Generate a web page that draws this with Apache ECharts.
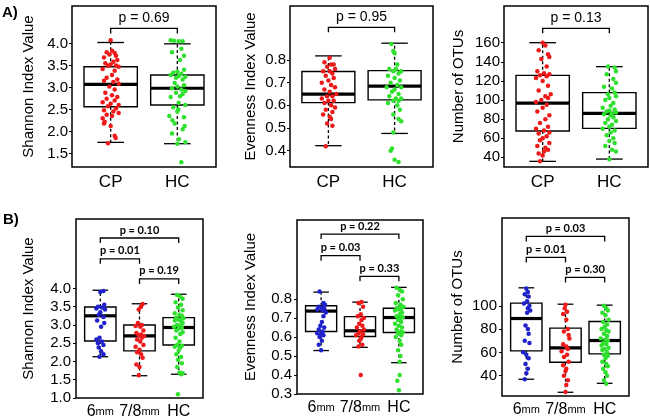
<!DOCTYPE html>
<html><head><meta charset="utf-8">
<script src="https://cdn.jsdelivr.net/npm/echarts@6/dist/echarts.min.js"></script>
<style>html,body{margin:0;padding:0;background:#fff}#c{width:650px;height:420px}</style>
</head><body><div id="c"></div>
<script>
// ---------- categories ----------
const groupsA = ['CP', 'HC'];
const groupsB = ['6mm', '7/8mm', 'HC'];

// ---------- y tick labels ----------
const ticksShannonA = [1.5, 2.0, 2.5, 3.0, 3.5, 4.0];
const ticksEvenA = [0.4, 0.5, 0.6, 0.7, 0.8];
const ticksOtuA = [40, 60, 80, 100, 120, 140, 160];
const ticksShannonB = [1.0, 1.5, 2.0, 2.5, 3.0, 3.5, 4.0];
const ticksEvenB = [0.3, 0.4, 0.5, 0.6, 0.7, 0.8];
const ticksOtuB = [40, 60, 80, 100];

// ---------- box statistics: [lower whisker, Q1, median, Q3, upper whisker] ----------
const boxShannonA = [[1.75, 2.56, 3.07, 3.47, 4.02], [1.72, 2.60, 2.98, 3.28, 3.99]];
const boxEvenA = [[0.422, 0.612, 0.649, 0.749, 0.818], [0.476, 0.624, 0.685, 0.753, 0.874]];
const boxOtuA = [[35.8, 67.5, 96.8, 125.8, 160], [38.2, 70.3, 86, 107.7, 134.9]];
const boxShannonB = [[2.13, 2.56, 3.25, 3.49, 3.95], [1.61, 2.29, 2.70, 3.00, 3.58], [1.65, 2.45, 2.93, 3.20, 3.84]];
const boxEvenB = [[0.529, 0.629, 0.737, 0.765, 0.837], [0.546, 0.603, 0.633, 0.708, 0.784], [0.465, 0.624, 0.703, 0.752, 0.862]];
const boxOtuB = [[36.9, 61.3, 89.1, 102.3, 115.5], [25.7, 51.5, 63.8, 80.8, 101.4], [33.4, 58.7, 70.2, 86.5, 100.6]];

// ---------- p values ----------
const pShannonA = ['p = 0.69'];
const pEvenA = ['p = 0.95'];
const pOtuA = ['p = 0.13'];
const pShannonB = ['p = 0.10', 'p = 0.01', 'p = 0.19'];
const pEvenB = ['p = 0.22', 'p = 0.03', 'p = 0.33'];
const pOtuB = ['p = 0.03', 'p = 0.01', 'p = 0.30'];

// ---------- individual samples (values) and their horizontal jitter ----------
const shannonA_CP = [4.07,3.83,3.80,3.78,3.75,3.72,3.68,3.62,3.58,3.55,3.52,3.50,3.49,3.47,3.42,3.38,3.28,3.22,3.18,3.15,3.12,3.08,3.02,2.95,2.88,2.82,2.78,2.74,2.70,2.66,2.63,2.60,2.57,2.52,2.48,2.45,2.42,2.38,2.35,2.30,2.22,2.18,2.12,1.90,1.85,1.73];
const shannonA_CP_j = [0.00,0.02,-0.06,0.06,-0.02,0.08,-0.10,0.10,0.04,-0.08,0.00,0.08,-0.04,0.12,-0.12,0.06,0.02,-0.06,0.10,-0.10,0.04,0.12,-0.02,0.06,-0.08,0.02,0.10,-0.06,0.06,-0.12,0.00,0.12,-0.04,0.08,-0.10,0.04,0.12,-0.06,0.02,-0.12,-0.09,-0.10,0.00,0.06,0.075,-0.04];
const shannonA_HC = [4.07,4.06,4.05,4.05,3.88,3.80,3.72,3.62,3.40,3.36,3.33,3.31,3.28,3.26,3.24,3.22,3.18,3.10,3.05,3.02,2.98,2.95,2.92,2.88,2.85,2.80,2.78,2.65,2.60,2.55,2.50,2.45,2.35,2.32,2.25,2.18,2.12,2.05,1.95,1.82,1.75,1.72,1.30];
const shannonA_HC_j = [-0.10,-0.05,0.02,0.08,0.06,-0.08,0.10,0.04,0.10,0.00,-0.06,0.06,-0.10,0.02,0.12,-0.02,0.08,-0.04,0.10,0.00,-0.08,0.06,0.12,-0.02,0.08,0.04,-0.10,0.02,0.12,-0.06,0.015,0.00,-0.12,0.10,-0.075,-0.04,0.11,0.08,-0.08,0.025,0.12,0.00,0.06];

const evenA_CP = [0.81,0.79,0.78,0.78,0.77,0.76,0.75,0.75,0.74,0.73,0.72,0.71,0.70,0.69,0.68,0.67,0.66,0.65,0.64,0.64,0.63,0.62,0.62,0.61,0.60,0.59,0.58,0.57,0.56,0.55,0.54,0.52,0.51,0.42];
const evenA_CP_j = [0.02,-0.06,0.04,0.08,-0.02,0.10,-0.08,0.02,0.06,-0.04,0.08,0.00,-0.10,0.04,0.10,-0.06,0.02,0.12,-0.02,0.06,-0.10,0.00,0.08,-0.06,0.04,0.10,-0.04,0.06,-0.08,0.02,0.04,-0.02,0.06,-0.04];
const evenA_HC = [0.87,0.84,0.83,0.78,0.76,0.76,0.75,0.75,0.74,0.73,0.72,0.71,0.70,0.69,0.68,0.68,0.67,0.66,0.65,0.64,0.63,0.63,0.62,0.62,0.61,0.60,0.58,0.56,0.54,0.53,0.48,0.41,0.40,0.36,0.35];
const evenA_HC_j = [-0.05,-0.02,0.00,0.04,-0.08,0.02,0.10,-0.02,0.06,-0.10,0.00,0.08,-0.06,0.04,-0.12,0.10,0.00,-0.04,0.06,-0.08,0.02,0.10,-0.02,0.06,-0.10,0.04,0.08,-0.02,0.06,0.10,-0.02,-0.04,-0.06,0.00,0.06];

const otuA_CP = [160,157,152,148,145,143,135,130,128,127,126,125,123,120,115,110,106,104,102,100,98,95,92,88,84,80,76,72,70,68,66,65,62,60,58,55,52,50,48,46,44,42,36];
const otuA_CP_j = [0.00,0.04,-0.06,0.08,0.10,-0.02,0.06,-0.08,0.02,0.10,-0.04,0.06,-0.10,0.00,0.08,-0.06,0.12,0.04,0.08,-0.02,-0.10,0.06,0.00,-0.08,0.10,0.04,-0.04,0.08,-0.10,0.02,0.10,-0.06,0.06,0.00,-0.04,0.10,-0.08,0.04,0.08,0.02,-0.06,0.00,-0.04];
const otuA_HC = [135,134,130,127,122,118,114,112,108,106,104,102,100,97,94,92,90,89,88,87,86,85,84,82,80,78,76,74,72,70,68,66,63,60,57,55,52,48,46,38];
const otuA_HC_j = [-0.02,0.08,0.10,-0.04,0.06,0.10,-0.08,0.04,0.08,-0.02,0.10,0.00,-0.06,0.06,0.02,-0.10,0.08,0.00,-0.04,0.10,0.04,-0.08,0.02,0.06,-0.02,0.10,-0.06,0.04,0.00,-0.10,0.08,0.02,-0.04,0.06,0.00,0.08,-0.06,0.04,0.10,0.00];

const shannonB_6 = [3.93,3.90,3.55,3.50,3.48,3.45,3.42,3.35,3.28,3.22,3.12,3.05,2.95,2.65,2.60,2.55,2.50,2.45,2.38,2.28,2.20,2.13];
const shannonB_6_j = [0.08,0.00,0.10,-0.06,0.04,-0.10,0.12,0.00,-0.04,0.08,-0.08,0.10,0.02,-0.02,-0.10,0.04,-0.06,0.08,-0.04,0.02,0.08,-0.02];
const shannonB_78 = [3.57,3.50,3.42,3.05,3.00,2.97,2.95,2.85,2.78,2.74,2.72,2.70,2.65,2.60,2.55,2.45,2.40,2.32,2.25,2.20,2.10,1.92,1.85,1.62];
const shannonB_78_j = [0.08,0.04,-0.02,-0.04,0.06,-0.10,0.02,0.10,-0.08,0.04,-0.02,0.12,0.06,-0.06,0.02,0.10,-0.10,0.00,-0.06,0.04,0.08,-0.08,0.00,-0.02];
const shannonB_HC = [3.82,3.78,3.72,3.62,3.55,3.48,3.40,3.32,3.28,3.25,3.20,3.18,3.15,3.12,3.10,3.05,3.00,2.98,2.95,2.92,2.90,2.85,2.80,2.75,2.65,2.55,2.45,2.43,2.40,2.38,2.30,2.20,2.12,2.05,1.95,1.85,1.70,1.68,1.65,1.10];
const shannonB_HC_j = [-0.04,0.04,0.10,-0.08,0.06,-0.02,0.10,-0.10,0.02,0.08,-0.06,0.12,0.00,-0.10,0.06,0.10,-0.04,0.04,-0.12,0.08,0.00,-0.06,0.10,0.04,-0.08,0.02,-0.04,0.08,-0.10,0.04,0.00,-0.06,0.06,-0.02,0.08,-0.04,0.02,0.10,0.06,-0.02];

const evenB_6 = [0.84,0.78,0.77,0.76,0.755,0.75,0.745,0.74,0.73,0.71,0.68,0.66,0.65,0.64,0.63,0.62,0.615,0.61,0.60,0.58,0.56,0.53];
const evenB_6_j = [-0.04,0.06,0.10,-0.06,0.02,0.08,-0.10,0.04,0.12,0.06,0.02,-0.02,0.08,-0.06,0.04,-0.10,0.00,0.06,-0.04,0.02,-0.06,0.00];
const evenB_78 = [0.785,0.78,0.76,0.72,0.71,0.70,0.69,0.67,0.66,0.65,0.64,0.63,0.62,0.615,0.61,0.60,0.59,0.58,0.56,0.55,0.40];
const evenB_78_j = [0.04,-0.04,0.08,0.02,-0.06,0.10,0.04,-0.02,0.06,-0.08,0.10,0.00,-0.04,0.08,-0.10,0.04,0.02,-0.02,0.06,-0.04,0.02];
const evenB_HC = [0.86,0.85,0.84,0.82,0.80,0.78,0.77,0.76,0.755,0.75,0.745,0.74,0.73,0.72,0.71,0.705,0.70,0.69,0.68,0.67,0.66,0.65,0.64,0.63,0.625,0.62,0.61,0.60,0.58,0.56,0.53,0.50,0.47,0.40,0.37,0.32];
const evenB_HC_j = [-0.06,0.02,0.08,-0.02,0.10,-0.08,0.04,0.12,-0.04,0.06,0.00,-0.10,0.08,0.02,-0.06,0.10,0.04,-0.02,0.06,-0.10,0.00,0.08,-0.06,0.04,0.10,-0.02,0.06,-0.08,0.02,0.06,-0.02,0.04,0.02,0.02,-0.04,0.00];

const otuB_6 = [115,112,110,108,104,102,100,98,96,94,83,80,76,70,68,60,58,55,50,46,42,37];
const otuB_6_j = [0.00,0.04,-0.04,0.06,0.02,-0.06,0.08,0.04,0.10,0.02,-0.02,0.04,0.06,-0.04,0.08,-0.08,0.00,0.06,-0.02,0.04,0.00,-0.04];
const otuB_78 = [101,98,95,93,88,80,78,75,72,67,65,63,61,58,56,52,49,46,44,40,36,32,26];
const otuB_78_j = [0.00,-0.02,0.04,-0.06,0.02,0.06,-0.04,0.08,0.10,-0.06,0.02,0.06,-0.10,0.04,-0.04,0.08,-0.06,0.02,0.00,-0.04,0.06,0.02,0.00];
const otuB_HC = [100,98,96,94,92,88,86,84,82,80,79,78,76,74,72,71,70,68,67,66,64,63,62,60,58,57,55,52,50,48,46,43,40,36,33];
const otuB_HC_j = [-0.02,0.04,0.08,-0.06,0.02,0.10,-0.04,0.06,0.00,-0.08,0.04,0.10,-0.02,0.06,-0.10,0.02,0.08,-0.04,0.04,-0.08,0.10,0.00,-0.06,0.06,-0.02,0.08,0.02,-0.06,0.04,0.08,-0.04,0.02,0.06,-0.02,0.04];

// ---------- styling / layout ----------
const RED = '#ee1a1a', GREEN = '#2fe02f', BLUE = '#1f22cc';
const FONT = 'Liberation Sans, Arial, sans-serif';
const PFONT_B = 'Lato, Liberation Sans, sans-serif';

const panels = [
  { grid: { left: 72, top: 6, width: 144, height: 161 }, x: [0.42, 2.58], y: [1.19, 4.85],
    ticks: ticksShannonA, dec: 1, name: 'Shannon Index Value', nameGap: 36, cats: groupsA, B: false,
    box: boxShannonA, pts: [[shannonA_CP, shannonA_CP_j], [shannonA_HC, shannonA_HC_j]], colors: [RED, GREEN],
    br: [[1, 2, 4.34]], p: pShannonA },
  { grid: { left: 290, top: 6, width: 143, height: 161 }, x: [0.42, 2.58], y: [0.328, 1.038],
    ticks: ticksEvenA, dec: 1, name: 'Evenness Index Value', nameGap: 32, cats: groupsA, B: false,
    box: boxEvenA, pts: [[evenA_CP, evenA_CP_j], [evenA_HC, evenA_HC_j]], colors: [RED, GREEN],
    br: [[1, 2, 0.944]], p: pEvenA },
  { grid: { left: 504, top: 6, width: 144, height: 161 }, x: [0.42, 2.58], y: [29.9, 198.4],
    ticks: ticksOtuA, dec: 0, name: 'Number of OTUs', nameGap: 38, cats: groupsA, B: false,
    box: boxOtuA, pts: [[otuA_CP, otuA_CP_j], [otuA_HC, otuA_HC_j]], colors: [RED, GREEN],
    br: [[1, 2, 175]], p: pOtuA },
  { grid: { left: 76, top: 219, width: 127, height: 180 }, x: [0.38, 3.62], y: [1.0, 5.9],
    ticks: ticksShannonB, dec: 1, name: 'Shannon Index Value', nameGap: 40, cats: groupsB, B: true,
    box: boxShannonB, pts: [[shannonB_6, shannonB_6_j], [shannonB_78, shannonB_78_j], [shannonB_HC, shannonB_HC_j]], colors: [BLUE, RED, GREEN],
    br: [[1, 3, 5.38], [1, 2, 4.81], [2, 3, 4.26]], p: pShannonB },
  { grid: { left: 297, top: 220, width: 126, height: 174 }, x: [0.38, 3.62], y: [0.3, 1.217],
    ticks: ticksEvenB, dec: 1, name: 'Evenness Index Value', nameGap: 39, cats: groupsB, B: true,
    box: boxEvenB, pts: [[evenB_6, evenB_6_j], [evenB_78, evenB_78_j], [evenB_HC, evenB_HC_j]], colors: [BLUE, RED, GREEN],
    br: [[1, 3, 1.143], [1, 2, 1.029], [2, 3, 0.92]], p: pEvenB },
  { grid: { left: 502, top: 218, width: 127, height: 178 }, x: [0.38, 3.62], y: [22.5, 175.5],
    ticks: ticksOtuB, dec: 0, name: 'Number of OTUs', nameGap: 37, cats: groupsB, B: true,
    box: boxOtuB, pts: [[otuB_6, otuB_6_j], [otuB_78, otuB_78_j], [otuB_HC, otuB_HC_j]], colors: [BLUE, RED, GREEN],
    br: [[1, 3, 159.7], [1, 2, 141.6], [2, 3, 124.4]], p: pOtuB }
];

function boxRenderer(params, api) {
  const x = api.value(0), lw = api.value(1), q1 = api.value(2), med = api.value(3), q3 = api.value(4), uw = api.value(5);
  const hw = 0.4, cw = 0.2;
  const tl = api.coord([x - hw, q3]), br = api.coord([x + hw, q1]);
  const m1 = api.coord([x - hw, med]), m2 = api.coord([x + hw, med]);
  const pu = api.coord([x, uw]), pl = api.coord([x, lw]), p3 = api.coord([x, q3]), p1 = api.coord([x, q1]);
  const cu1 = api.coord([x - cw, uw]), cu2 = api.coord([x + cw, uw]);
  const cl1 = api.coord([x - cw, lw]), cl2 = api.coord([x + cw, lw]);
  const dash = { stroke: '#000', lineWidth: 1.3, lineDash: [3, 2.5] };
  const solid = { stroke: '#000', lineWidth: 1.3 };
  return { type: 'group', children: [
    { type: 'line', shape: { x1: p3[0], y1: p3[1], x2: pu[0], y2: pu[1] }, style: dash },
    { type: 'line', shape: { x1: p1[0], y1: p1[1], x2: pl[0], y2: pl[1] }, style: dash },
    { type: 'line', shape: { x1: cu1[0], y1: cu1[1], x2: cu2[0], y2: cu2[1] }, style: solid },
    { type: 'line', shape: { x1: cl1[0], y1: cl1[1], x2: cl2[0], y2: cl2[1] }, style: solid },
    { type: 'rect', shape: { x: tl[0], y: tl[1], width: br[0] - tl[0], height: br[1] - tl[1] }, style: { fill: '#fff', stroke: '#000', lineWidth: 1.4 } },
    { type: 'line', shape: { x1: m1[0], y1: m1[1], x2: m2[0], y2: m2[1] }, style: { stroke: '#000', lineWidth: 3.2 } }
  ] };
}

function makeBracketRenderer(labels, isB) {
  return function (params, api) {
    const x1 = api.value(0), x2 = api.value(1), y = api.value(2);
    const a = api.coord([x1, y]), b = api.coord([x2, y]);
    const drop = 5;
    return { type: 'group', children: [
      { type: 'polyline', shape: { points: [[a[0], a[1] + drop], a, b, [b[0], b[1] + drop]] }, style: { stroke: '#000', lineWidth: 1.3, fill: null } },
      { type: 'text', x: (a[0] + b[0]) / 2, y: a[1] - (isB ? 8 : 10),
        style: { text: labels[params.dataIndex], align: 'center', verticalAlign: 'middle', fill: '#000',
          fontSize: isB ? 11 : 14, fontWeight: isB ? 'bold' : 'normal', fontFamily: isB ? PFONT_B : FONT } }
    ] };
  };
}

const option = { animation: false, grid: [], xAxis: [], yAxis: [], series: [],
  graphic: [
    { type: 'text', left: 2, top: 5, style: { text: 'A)', fontSize: 15, fontWeight: 'bold', fontFamily: FONT, fill: '#000' } },
    { type: 'text', left: 3, top: 212, style: { text: 'B)', fontSize: 15, fontWeight: 'bold', fontFamily: FONT, fill: '#000' } }
  ] };

panels.forEach((p, k) => {
  option.grid.push(Object.assign({ show: true, borderColor: '#000', borderWidth: 1.5, backgroundColor: 'transparent', containLabel: false }, p.grid));
  const catVals = p.cats.map((c, i) => i + 1);
  option.xAxis.push({ type: 'value', gridIndex: k, min: p.x[0], max: p.x[1],
    axisLine: { show: false }, splitLine: { show: false }, axisTick: { show: false },
    axisLabel: { customValues: catVals, margin: p.B ? 5 : 7, color: '#000',
      formatter: v => {
        const c = p.cats[Math.round(v) - 1];
        if (!p.B) return c;
        if (c.endsWith('mm')) return '{n|' + c.slice(0, -2) + '}{u|mm}';
        return '{n|' + c + '}';
      },
      fontSize: 17, fontFamily: FONT,
      rich: { n: { fontSize: 16, fontFamily: FONT, color: '#000', verticalAlign: 'middle', lineHeight: 18 },
              u: { fontSize: 11, fontFamily: FONT, color: '#000', verticalAlign: 'middle', lineHeight: 18 } } } });
  option.yAxis.push({ type: 'value', gridIndex: k, min: p.y[0], max: p.y[1],
    name: p.name, nameLocation: 'middle', nameGap: p.nameGap,
    nameTextStyle: { fontSize: 15, fontFamily: FONT, color: '#000' },
    axisLine: { show: false }, splitLine: { show: false },
    axisTick: { show: true, length: 3, customValues: p.ticks, lineStyle: { color: '#000', width: 1 } },
    axisLabel: { customValues: p.ticks, margin: p.B ? 5 : 4, color: '#000', fontSize: 15, fontFamily: FONT,
      formatter: v => v.toFixed(p.dec) } });
  option.series.push({ type: 'custom', xAxisIndex: k, yAxisIndex: k, z: 2, silent: true,
    renderItem: boxRenderer, encode: { x: 0, y: [1, 2, 3, 4, 5] },
    data: p.box.map((b, i) => [i + 1].concat(b)) });
  p.pts.forEach((grp, gi) => {
    const vals = grp[0], jit = grp[1];
    option.series.push({ type: 'scatter', xAxisIndex: k, yAxisIndex: k, z: 3, silent: true,
      symbol: 'circle', symbolSize: 4.5, itemStyle: { color: p.colors[gi], opacity: 1 },
      data: vals.map((v, i) => [gi + 1 + (jit[i] || 0), v]) });
  });
  option.series.push({ type: 'custom', xAxisIndex: k, yAxisIndex: k, z: 4, silent: true,
    renderItem: makeBracketRenderer(p.p, p.B), encode: { x: [0, 1], y: 2 },
    data: p.br.map(b => b.slice()) });
});

const chart = echarts.init(document.getElementById('c'), null, { renderer: 'canvas' });
chart.setOption(option);
</script>
</body></html>
